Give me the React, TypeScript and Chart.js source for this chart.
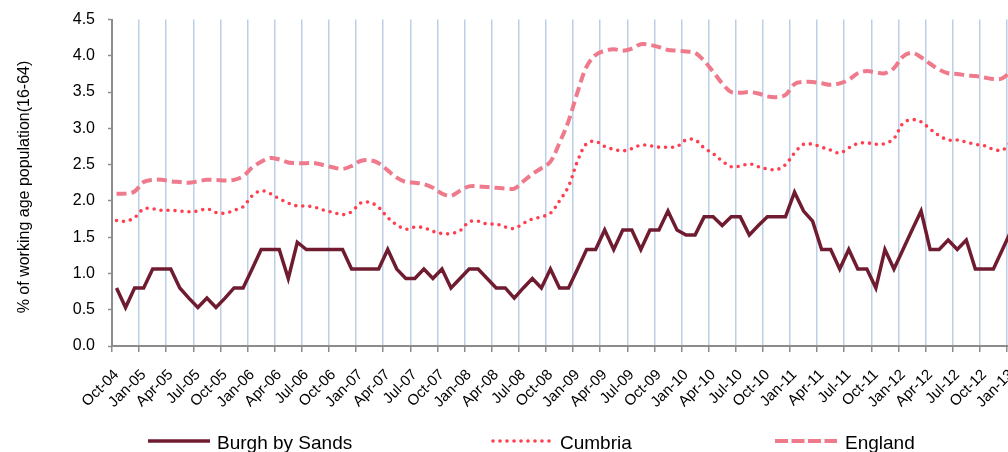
import React, { useEffect, useRef } from "react";
import { Chart, registerables } from "chart.js";

Chart.register(...registerables);

const seriesNames = ["Burgh by Sands", "Cumbria", "England"];

// Monthly values, Oct-04 .. Jan-13 (100 months)
const burghBySands = [
  0.8, 0.53, 0.8, 0.8, 1.06, 1.06, 1.06, 0.8, 0.66, 0.53,
  0.66, 0.53, 0.66, 0.8, 0.8, 1.06, 1.33, 1.33, 1.33, 0.93,
  1.43, 1.33, 1.33, 1.33, 1.33, 1.33, 1.06, 1.06, 1.06, 1.06,
  1.33, 1.06, 0.93, 0.93, 1.06, 0.93, 1.06, 0.8, 0.93, 1.06,
  1.06, 0.93, 0.8, 0.8, 0.66, 0.8, 0.93, 0.8, 1.06, 0.8,
  0.8, 1.06, 1.33, 1.33, 1.6, 1.33, 1.6, 1.6, 1.33, 1.6,
  1.6, 1.86, 1.6, 1.53, 1.53, 1.78, 1.78, 1.66, 1.78, 1.78,
  1.53, 1.66, 1.78, 1.78, 1.78, 2.12, 1.86, 1.72, 1.33, 1.33,
  1.06, 1.33, 1.06, 1.06, 0.8, 1.33, 1.06, 1.33, 1.6, 1.86,
  1.33, 1.33, 1.46, 1.33, 1.46, 1.06, 1.06, 1.06, 1.33, 1.6,
];

const cumbria = [
  1.73, 1.72, 1.77, 1.89, 1.89, 1.87, 1.87, 1.86, 1.85, 1.86,
  1.89, 1.84, 1.83, 1.87, 1.92, 2.07, 2.14, 2.1, 2.03, 1.97,
  1.93, 1.93, 1.91, 1.87, 1.84, 1.81, 1.85, 1.97, 1.98, 1.91,
  1.77, 1.67, 1.61, 1.64, 1.63, 1.58, 1.55, 1.55, 1.59, 1.71,
  1.72, 1.68, 1.68, 1.64, 1.62, 1.69, 1.75, 1.78, 1.83, 2.0,
  2.2, 2.55, 2.79, 2.82, 2.75, 2.71, 2.69, 2.72, 2.77, 2.76,
  2.74, 2.74, 2.75, 2.84, 2.84, 2.73, 2.65, 2.55, 2.47, 2.48,
  2.51, 2.47, 2.44, 2.43, 2.5, 2.66, 2.78, 2.78, 2.74, 2.7,
  2.66, 2.73, 2.79, 2.8, 2.78, 2.79, 2.86, 3.07, 3.12, 3.09,
  2.99, 2.9, 2.84, 2.84, 2.81, 2.78, 2.76, 2.71, 2.7, 2.82,
];

const england = [
  2.1, 2.1, 2.13, 2.26, 2.29, 2.29, 2.27, 2.26, 2.25, 2.27,
  2.29, 2.29, 2.28, 2.29, 2.34, 2.46, 2.54, 2.59, 2.57, 2.53,
  2.52, 2.52, 2.52, 2.49, 2.46, 2.44, 2.48, 2.55, 2.56, 2.52,
  2.42, 2.32, 2.26, 2.25, 2.23, 2.18, 2.1, 2.07, 2.14, 2.2,
  2.2, 2.19, 2.18, 2.17, 2.17, 2.27, 2.37, 2.45, 2.54, 2.8,
  3.1, 3.5, 3.85, 4.01, 4.07, 4.09, 4.07, 4.1, 4.16, 4.15,
  4.12, 4.08, 4.07, 4.06, 4.04, 3.93, 3.78, 3.62, 3.5, 3.49,
  3.5, 3.48, 3.44, 3.43, 3.46, 3.61, 3.64, 3.64, 3.62, 3.6,
  3.62, 3.67, 3.76, 3.79, 3.77, 3.76, 3.83, 3.99, 4.04, 3.98,
  3.89, 3.81, 3.76, 3.75, 3.73, 3.72, 3.7, 3.68, 3.69, 3.8,
];

const tickLabels = [
  "Oct-04", "Jan-05", "Apr-05", "Jul-05", "Oct-05", "Jan-06", "Apr-06", "Jul-06",
  "Oct-06", "Jan-07", "Apr-07", "Jul-07", "Oct-07", "Jan-08", "Apr-08", "Jul-08",
  "Oct-08", "Jan-09", "Apr-09", "Jul-09", "Oct-09", "Jan-10", "Apr-10", "Jul-10",
  "Oct-10", "Jan-11", "Apr-11", "Jul-11", "Oct-11", "Jan-12", "Apr-12", "Jul-12",
  "Oct-12", "Jan-13",
];

const yTickValues = [0, 0.5, 1, 1.5, 2, 2.5, 3, 3.5, 4, 4.5];
const yTitle = "% of working age population(16-64)";

const FONT = '"Liberation Sans", Arial, sans-serif';
const AXIS_GREY = "#8c8c8c";

const titleAndLegendPlugin = {
  id: "titleAndLegend",
  afterDraw(chart: any) {
    const ctx = chart.ctx;
    // y-axis title
    ctx.save();
    ctx.translate(17, 179);
    ctx.rotate(-Math.PI / 2);
    ctx.fillStyle = "#000";
    ctx.font = `16px ${FONT}`;
    ctx.textAlign = "center";
    ctx.textBaseline = "middle";
    ctx.fillText(yTitle, 0, 0);
    ctx.restore();

    // legend
    const slots = [
      { x: 140, tx: 209, dash: [] as number[], cap: "butt" },
      { x: 485, tx: 552, dash: [0, 7], cap: "round" },
      { x: 767, tx: 837, dash: [13, 3.5], cap: "butt" },
    ];
    chart.data.datasets.forEach((ds: any, i: number) => {
      const s = slots[i];
      ctx.save();
      ctx.strokeStyle = ds.borderColor;
      ctx.lineWidth = ds.borderWidth;
      ctx.lineCap = s.cap;
      ctx.setLineDash(s.dash);
      ctx.beginPath();
      ctx.moveTo(s.x, 433);
      ctx.lineTo(s.x + 62, 433);
      ctx.stroke();
      ctx.setLineDash([]);
      ctx.fillStyle = "#000";
      ctx.font = `19px ${FONT}`;
      ctx.textAlign = "left";
      ctx.textBaseline = "alphabetic";
      ctx.fillText(ds.label, s.tx, 441);
      ctx.restore();
    });
  },
};

export default function App() {
  const ref = useRef<HTMLCanvasElement | null>(null);

  useEffect(() => {
    if (!ref.current) return;
    const toPts = (arr: number[]) => arr.map((v, i) => ({ x: i, y: v }));
    const chart = new Chart(ref.current, {
      type: "line",
      data: {
        datasets: [
          {
            label: seriesNames[0],
            data: toPts(burghBySands),
            borderColor: "#701c30",
            backgroundColor: "#701c30",
            borderWidth: 3.5,
            pointRadius: 0,
            tension: 0,
          },
          {
            label: seriesNames[1],
            data: toPts(cumbria),
            borderColor: "#ff3f4f",
            backgroundColor: "#ff3f4f",
            borderWidth: 3.6,
            borderDash: [0, 7],
            borderCapStyle: "round",
            pointRadius: 0,
            tension: 0.35,
          },
          {
            label: seriesNames[2],
            data: toPts(england),
            borderColor: "#ef7a8c",
            backgroundColor: "#ef7a8c",
            borderWidth: 4,
            borderDash: [10, 5],
            pointRadius: 0,
            tension: 0.35,
          },
        ],
      },
      options: {
        responsive: false,
        animation: false,
        events: [],
        layout: { padding: { top: 11.5, right: 2, left: 0, bottom: 0 } },
        plugins: {
          legend: { display: false },
          tooltip: { enabled: false },
        },
        scales: {
          x: {
            type: "linear",
            min: -0.5,
            max: 99.5,
            afterBuildTicks: (s: any) => {
              s.ticks = tickLabels.map((_, k) => ({ value: -0.5 + 3 * k }));
            },
            afterFit: (s: any) => {
              s.height = 106;
              s.paddingLeft = 0;
              s.paddingRight = 0;
            },
            ticks: {
              autoSkip: false,
              minRotation: 45,
              maxRotation: 45,
              labelOffset: 4.5,
              padding: 14,
              color: "#000",
              font: { family: FONT, size: 15 },
              callback: (_v: any, i: number) => tickLabels[i],
            },
            grid: {
              color: "#bccfe6",
              lineWidth: 1.5,
              tickColor: AXIS_GREY,
              tickLength: 6,
              tickWidth: 1.5,
            },
            border: { color: AXIS_GREY, width: 2 },
          },
          y: {
            min: 0,
            max: 4.5,
            afterBuildTicks: (s: any) => {
              s.ticks = yTickValues.map((v) => ({ value: v }));
            },
            afterFit: (s: any) => {
              s.width = 104;
              s.paddingTop = 0;
              s.paddingBottom = 0;
            },
            ticks: {
              padding: 13,
              color: "#000",
              font: { family: FONT, size: 16 },
              callback: (v: any) => Number(v).toFixed(1),
            },
            grid: {
              drawOnChartArea: false,
              drawTicks: true,
              tickLength: 4,
              color: AXIS_GREY,
              tickColor: AXIS_GREY,
              tickWidth: 1.5,
            },
            border: { color: AXIS_GREY, width: 2 },
            title: { display: false },
          },
        },
      },
      plugins: [titleAndLegendPlugin],
    } as any);
    return () => chart.destroy();
  }, []);

  return (
    <div
      style={{
        position: "fixed",
        left: 8,
        top: 8,
        width: 1000,
        height: 444,
        overflow: "hidden",
      }}
    >
      <canvas ref={ref} width={1010} height={444} style={{ display: "block" }} />
    </div>
  );
}
